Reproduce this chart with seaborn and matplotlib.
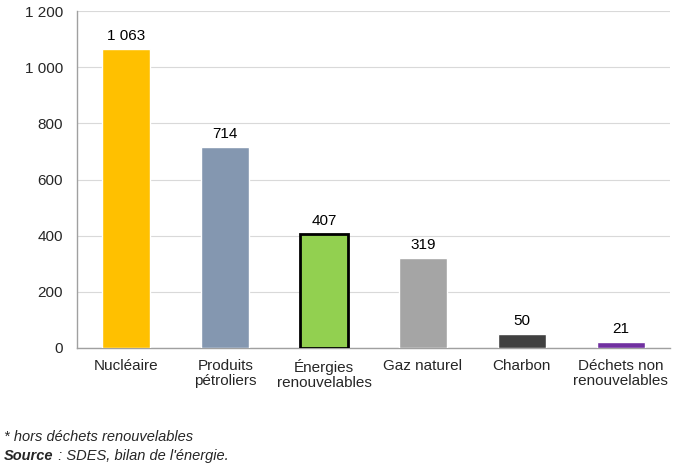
import matplotlib
matplotlib.use("Agg")
import matplotlib.pyplot as plt
import seaborn as sns
import pandas as pd
import numpy as np

categories = ["Nucléaire", "Produits\npétroliers", "Énergies\nrenouvelables",
              "Gaz naturel", "Charbon", "Déchets non\nrenouvelables"]
values = [1063, 714, 407, 319, 50, 21]
colors = ["#FFC000", "#8497B0", "#92D050", "#A5A5A5", "#404040", "#7030A0"]
yticks = [0, 200, 400, 600, 800, 1000, 1200]

def fmt(v):
    return f"{v:,}".replace(",", " ")

sns.set_style("white")
plt.rcParams['font.family'] = ['Liberation Sans', 'DejaVu Sans']
FS = 11

df = pd.DataFrame({"cat": categories, "val": values})

fig = plt.figure(figsize=(6.89, 4.69), dpi=100)
ax = fig.add_axes([0.1118, 0.258, 0.8606, 0.7185])

sns.barplot(data=df, x="cat", y="val", hue="cat", palette=colors, legend=False,
            width=0.486, saturation=1, ax=ax, zorder=3)

# contour noir sur les renouvelables
for i, p in enumerate(ax.patches):
    if i == 2:
        p.set_edgecolor("black")
        p.set_linewidth(2)
    ax.text(p.get_x() + p.get_width() / 2, p.get_height() + 22, fmt(values[i]),
            ha="center", va="bottom", fontsize=FS, color="#000000")

ax.set_xlim(-0.5, len(categories) - 0.5)
ax.set_ylim(0, 1200)
ax.set_yticks(yticks)
ax.set_yticklabels([fmt(v) for v in yticks], fontsize=FS)
ax.set_xlabel("")
ax.set_ylabel("")
for lab in ax.get_xticklabels():
    lab.set_linespacing(1.1)
    lab.set_fontsize(FS)
ax.tick_params(axis="x", length=0, pad=8)
ax.set_xticks(np.arange(-0.5, len(categories)), minor=True)
ax.tick_params(axis="x", which="minor", length=5, color="#A0A0A0", width=1)
ax.tick_params(axis="y", length=5, color="#A0A0A0", width=1, pad=5)
ax.grid(axis="y", color="#D9D9D9", linewidth=0.8, zorder=0)
ax.set_axisbelow(True)

for s in ["top", "right"]:
    ax.spines[s].set_visible(False)
for s in ["left", "bottom"]:
    ax.spines[s].set_color("#A0A0A0")
    ax.spines[s].set_linewidth(1)

# notes de bas de figure
fig.text(0.006, 0.068, "* hors déchets renouvelables", fontsize=10.5, style="italic", va="center")
src = fig.text(0.006, 0.027, "Source", fontsize=10.5, style="italic", weight="bold", va="center")
ax.annotate(" : SDES, bilan de l'énergie.", xy=(1, 0.5), xycoords=src, va="center",
            ha="left", fontsize=10.5, style="italic", annotation_clip=False)

fig.savefig("out.png", dpi=100)
